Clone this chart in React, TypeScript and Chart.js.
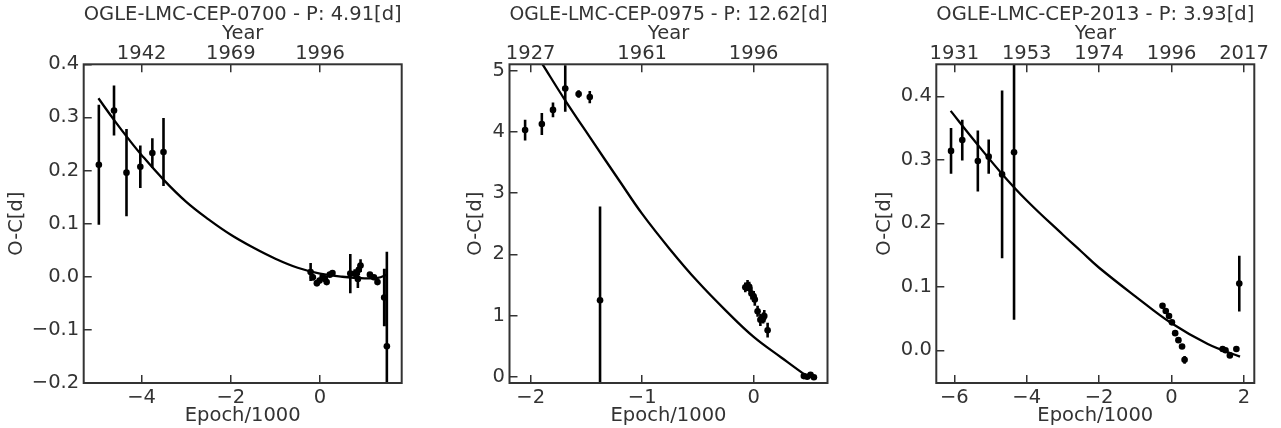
import React, { useEffect, useRef } from "react";
import { Chart, registerables } from "chart.js";

Chart.register(...registerables);

const FONT = "'DejaVu Sans', 'Liberation Sans', sans-serif";
const INK = "#333333";
const FS = 19.5;

// ---------- Panel 1: OGLE-LMC-CEP-0700 ----------
const p1Title = "OGLE-LMC-CEP-0700 - P: 4.91[d]";
const p1Epoch = [-4.96, -4.62, -4.34, -4.03, -3.76, -3.51, -0.21, -0.16, -0.07, -0.01, 0.06, 0.11, 0.15, 0.22, 0.28, 0.68, 0.78, 0.85, 0.87, 0.91, 1.12, 1.21, 1.29, 1.44, 1.5];
const p1OC = [0.211, 0.313, 0.196, 0.207, 0.233, 0.235, 0.009, -0.001, -0.012, -0.007, 0.0, -0.004, -0.01, 0.004, 0.007, 0.006, 0.006, -0.004, 0.013, 0.021, 0.004, -0.001, -0.01, -0.039, -0.131];
const p1Err = [0.113, 0.047, 0.082, 0.04, 0.028, 0.064, 0.017, 0.006, 0.006, 0.005, 0.005, 0.004, 0.005, 0.004, 0.004, 0.037, 0.008, 0.017, 0.01, 0.012, 0.003, 0.003, 0.004, 0.054, 0.178];
const p1FitEpoch = [-4.97, -4.6, -4.3, -4.0, -3.5, -3.0, -2.5, -2.0, -1.5, -1.0, -0.5, 0.0, 0.5, 1.0, 1.3, 1.5];
const p1FitOC = [0.336, 0.293, 0.26, 0.229, 0.182, 0.141, 0.108, 0.079, 0.055, 0.034, 0.017, 0.006, 0.0, -0.003, -0.002, 0.004];
const p1XRange = [-5.3, 1.833];
const p1YRange = [-0.2, 0.4];
const p1YTicks = [-0.2, -0.1, 0, 0.1, 0.2, 0.3, 0.4];
const p1YLabels = ["\u22120.2", "\u22120.1", "0.0", "0.1", "0.2", "0.3", "0.4"];
const p1XTicks = [-4, -2, 0];
const p1XLabels = ["\u22124", "\u22122", "0"];
const p1YearTicks = [-4, -2, 0];
const p1YearLabels = ["1942", "1969", "1996"];

// ---------- Panel 2: OGLE-LMC-CEP-0975 ----------
const p2Title = "OGLE-LMC-CEP-0975 - P: 12.62[d]";
const p2Epoch = [-2.05, -1.9, -1.8, -1.69, -1.57, -1.47, -1.378, -0.075, -0.055, -0.04, -0.02, 0.0, 0.01, 0.035, 0.06, 0.085, 0.095, 0.125, 0.45, 0.48, 0.51, 0.54];
const p2OC = [4.03, 4.13, 4.36, 4.71, 4.62, 4.57, 1.25, 1.46, 1.49, 1.47, 1.36, 1.31, 1.26, 1.07, 0.93, 0.96, 0.99, 0.76, 0.01, 0.0, 0.03, -0.01];
const p2Err = [0.17, 0.18, 0.12, 0.38, 0.06, 0.1, 1.53, 0.08, 0.09, 0.08, 0.1, 0.09, 0.1, 0.09, 0.1, 0.09, 0.1, 0.12, 0.02, 0.02, 0.02, 0.02];
const p2FitEpoch = [-1.95, -1.892, -1.692, -1.468, -1.2, -1.0, -0.75, -0.5, -0.25, 0.0, 0.25, 0.46, 0.49];
const p2FitOC = [5.27, 5.1, 4.52, 3.91, 3.19, 2.66, 2.08, 1.55, 1.08, 0.65, 0.31, 0.03, 0.0];
const p2XRange = [-2.19, 0.662];
const p2YRange = [-0.103, 5.105];
const p2YTicks = [0, 1, 2, 3, 4, 5];
const p2YLabels = ["0", "1", "2", "3", "4", "5"];
const p2XTicks = [-2, -1, 0];
const p2XLabels = ["\u22122", "\u22121", "0"];
const p2YearTicks = [-2, -1, 0];
const p2YearLabels = ["1927", "1961", "1996"];

// ---------- Panel 3: OGLE-LMC-CEP-2013 ----------
const p3Title = "OGLE-LMC-CEP-2013 - P: 3.93[d]";
const p3Epoch = [-6.09, -5.78, -5.35, -5.05, -4.68, -4.35, -0.25, -0.16, -0.07, 0.01, 0.1, 0.19, 0.29, 0.36, 1.41, 1.49, 1.61, 1.79, 1.87];
const p3OC = [0.314, 0.331, 0.298, 0.305, 0.277, 0.312, 0.07, 0.062, 0.054, 0.044, 0.027, 0.016, 0.006, -0.015, 0.002, 0.0, -0.008, 0.002, 0.105];
const p3Err = [0.036, 0.032, 0.048, 0.027, 0.132, 0.264, 0.001, 0.001, 0.001, 0.001, 0.001, 0.001, 0.001, 0.006, 0.001, 0.001, 0.001, 0.001, 0.044];
const p3FitEpoch = [-6.1, -5.5, -4.7, -4.0, -3.0, -2.5, -2.0, -1.0, 0.0, 1.0, 1.89];
const p3FitOC = [0.377, 0.334, 0.279, 0.236, 0.182, 0.156, 0.13, 0.085, 0.0425, 0.01, -0.01];
const p3XRange = [-6.497, 2.285];
const p3YRange = [-0.0515, 0.4504];
const p3YTicks = [0, 0.1, 0.2, 0.3, 0.4];
const p3YLabels = ["0.0", "0.1", "0.2", "0.3", "0.4"];
const p3XTicks = [-6, -4, -2, 0, 2];
const p3XLabels = ["\u22126", "\u22124", "\u22122", "0", "2"];
const p3YearTicks = [-6, -4, -2, 0, 2];
const p3YearLabels = ["1931", "1953", "1974", "1996", "2017"];

type PanelData = {
  title: string;
  x: number[];
  y: number[];
  err: number[];
  fitX: number[];
  fitY: number[];
  xRange: number[];
  yRange: number[];
  yTicks: number[];
  yLabels: string[];
  xTicks: number[];
  xLabels: string[];
  yearTicks: number[];
  yearLabels: string[];
};

type PanelLayout = {
  left: number;
  yWidth: number;
  padRight: number;
  yTitlePad: number;
};

const panels: { d: PanelData; L: PanelLayout }[] = [
  {
    d: { title: p1Title, x: p1Epoch, y: p1OC, err: p1Err, fitX: p1FitEpoch, fitY: p1FitOC, xRange: p1XRange, yRange: p1YRange, yTicks: p1YTicks, yLabels: p1YLabels, xTicks: p1XTicks, xLabels: p1XLabels, yearTicks: p1YearTicks, yearLabels: p1YearLabels },
    L: { left: 0, yWidth: 83.7, padRight: 25.3, yTitlePad: 7.2 },
  },
  {
    d: { title: p2Title, x: p2Epoch, y: p2OC, err: p2Err, fitX: p2FitEpoch, fitY: p2FitOC, xRange: p2XRange, yRange: p2YRange, yTicks: p2YTicks, yLabels: p2YLabels, xTicks: p2XTicks, xLabels: p2XLabels, yearTicks: p2YearTicks, yearLabels: p2YearLabels },
    L: { left: 427, yWidth: 82.5, padRight: 26.5, yTitlePad: 38.9 },
  },
  {
    d: { title: p3Title, x: p3Epoch, y: p3OC, err: p3Err, fitX: p3FitEpoch, fitY: p3FitOC, xRange: p3XRange, yRange: p3YRange, yTicks: p3YTicks, yLabels: p3YLabels, xTicks: p3XTicks, xLabels: p3XLabels, yearTicks: p3YearTicks, yearLabels: p3YearLabels },
    L: { left: 854, yWidth: 82.3, padRight: 26.7, yTitlePad: 21.1 },
  },
];

const framePlugin = {
  id: "frame",
  afterDatasetsDraw(chart: any) {
    const { ctx, chartArea: a } = chart;
    ctx.save();
    ctx.strokeStyle = INK;
    ctx.lineWidth = 2;
    ctx.strokeRect(a.left, a.top, a.right - a.left, a.bottom - a.top);
    ctx.restore();
  },
};

const font = { family: FONT, size: FS, weight: "normal" as const, lineHeight: 1 };

function gridOpts() {
  return {
    drawOnChartArea: false,
    drawTicks: true,
    tickLength: -8,
    color: INK,
    tickColor: INK,
    lineWidth: 1.5,
    tickWidth: 1.5,
    offset: false,
  };
}

function setTicks(vals: number[]) {
  return (scale: any) => {
    scale.ticks = vals.map((v) => ({ value: v }));
  };
}

function labelFor(vals: number[], labels: string[]) {
  return (value: any) => {
    const i = vals.indexOf(Number(value));
    return i >= 0 ? labels[i] : "";
  };
}

function makeConfig(d: PanelData, L: PanelLayout): any {
  const errData: { x: number; y: number | null }[] = [];
  d.x.forEach((x, i) => {
    errData.push({ x, y: d.y[i] - d.err[i] });
    errData.push({ x, y: d.y[i] + d.err[i] });
    errData.push({ x, y: null });
  });
  return {
    type: "scatter",
    data: {
      datasets: [
        {
          type: "line",
          label: "fit",
          data: d.fitX.map((x, i) => ({ x, y: d.fitY[i] })),
          borderColor: "#000000",
          borderWidth: 2.3,
          pointRadius: 0,
          tension: 0.4,
          fill: false,
          order: 3,
        },
        {
          type: "line",
          label: "err",
          data: errData,
          borderColor: "#000000",
          borderWidth: 2.6,
          borderCapStyle: "butt",
          pointRadius: 0,
          spanGaps: false,
          tension: 0,
          fill: false,
          order: 2,
        },
        {
          type: "scatter",
          label: "O-C",
          data: d.x.map((x, i) => ({ x, y: d.y[i] })),
          backgroundColor: "#000000",
          borderColor: "#000000",
          borderWidth: 0,
          pointRadius: 3.3,
          order: 1,
        },
      ],
    },
    options: {
      responsive: false,
      maintainAspectRatio: false,
      animation: false,
      devicePixelRatio: 1,
      layout: { padding: { left: 0, right: L.padRight, top: 0, bottom: 0 } },
      plugins: {
        legend: { display: false },
        tooltip: { enabled: false },
        title: {
          display: true,
          text: d.title,
          fullSize: false,
          color: INK,
          font,
          padding: { top: 5.25, bottom: 0 },
        },
      },
      scales: {
        x: {
          type: "linear",
          position: "bottom",
          min: d.xRange[0],
          max: d.xRange[1],
          offset: false,
          border: { display: false },
          grid: gridOpts(),
          afterBuildTicks: setTicks(d.xTicks),
          ticks: {
            autoSkip: false,
            maxRotation: 0,
            minRotation: 0,
            padding: 12.7,
            color: INK,
            font,
            callback: labelFor(d.xTicks, d.xLabels),
          },
          title: { display: true, text: "Epoch/1000", color: INK, font, padding: { top: 0, bottom: 2.5 } },
          afterFit: (s: any) => {
            s.height = 45;
          },
        },
        x2: {
          type: "linear",
          position: "top",
          min: d.xRange[0],
          max: d.xRange[1],
          offset: false,
          border: { display: false },
          grid: gridOpts(),
          afterBuildTicks: setTicks(d.yearTicks),
          ticks: {
            autoSkip: false,
            maxRotation: 0,
            minRotation: 0,
            padding: 8.8,
            color: INK,
            font,
            callback: labelFor(d.yearTicks, d.yearLabels),
          },
          title: { display: true, text: "Year", color: INK, font, padding: { top: -0.35, bottom: 0 } },
          afterFit: (s: any) => {
            s.height = 39.55;
          },
        },
        y: {
          type: "linear",
          position: "left",
          min: d.yRange[0],
          max: d.yRange[1],
          border: { display: false },
          grid: gridOpts(),
          afterBuildTicks: setTicks(d.yTicks),
          ticks: {
            autoSkip: false,
            padding: 12.5,
            color: INK,
            font,
            callback: labelFor(d.yTicks, d.yLabels),
          },
          title: { display: true, text: "O-C[d]", color: INK, font, padding: { top: L.yTitlePad, bottom: 0 } },
          afterFit: (s: any) => {
            s.width = L.yWidth;
          },
        },
      },
    },
    plugins: [framePlugin],
  };
}

function Panel({ d, L }: { d: PanelData; L: PanelLayout }) {
  const ref = useRef<HTMLCanvasElement>(null);
  useEffect(() => {
    if (!ref.current) return;
    const chart = new Chart(ref.current, makeConfig(d, L));
    return () => chart.destroy();
  }, []);
  return (
    <canvas
      ref={ref}
      width={427}
      height={428}
      style={{ position: "absolute", left: L.left, top: 0, width: 427, height: 428, display: "block" }}
    />
  );
}

export default function App() {
  return (
    <div style={{ position: "fixed", left: 0, top: 0, width: 1281, height: 428, background: "#ffffff", overflow: "hidden" }}>
      {panels.map((p, i) => (
        <Panel key={i} d={p.d} L={p.L} />
      ))}
    </div>
  );
}
